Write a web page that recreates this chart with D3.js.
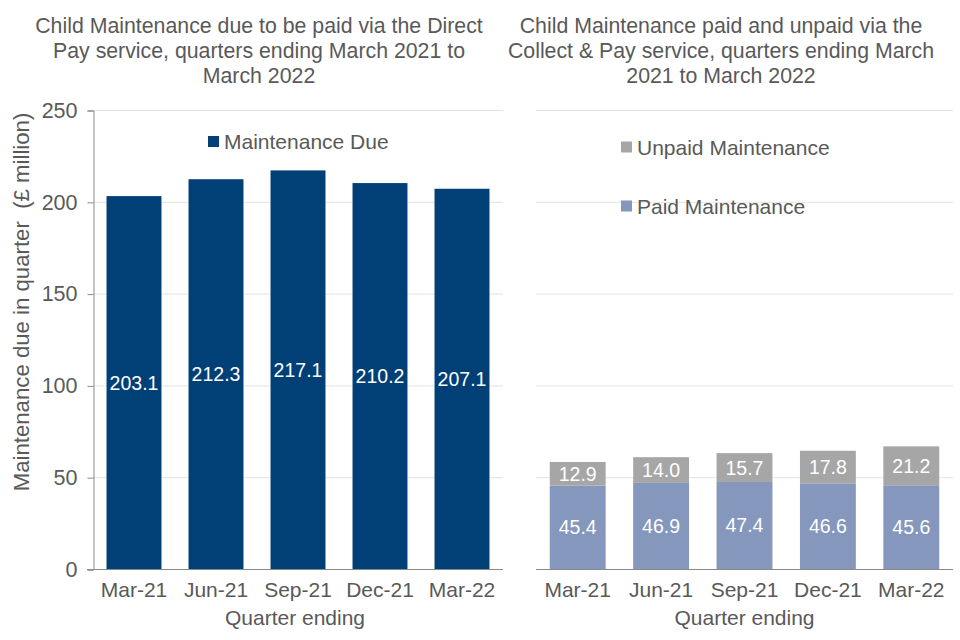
<!DOCTYPE html>
<html><head><meta charset="utf-8">
<script src="https://cdn.jsdelivr.net/npm/d3@7"></script>
<style>
body{margin:0;background:#fff;}
text{font-family:"Liberation Sans",Arial,sans-serif;}
</style></head>
<body><svg id="c" width="960" height="640"></svg>
<script>
const quarters = ["Mar-21","Jun-21","Sep-21","Dec-21","Mar-22"];
const dueValues = [203.1,212.3,217.1,210.2,207.1];
const paidValues = [45.4,46.9,47.4,46.6,45.6];
const unpaidValues = [12.9,14.0,15.7,17.8,21.2];
const yTicks = [0,50,100,150,200,250];
const leftTitle = ["Child Maintenance due to be paid via the Direct","Pay service, quarters ending March 2021 to","March 2022"];
const rightTitle = ["Child Maintenance paid and unpaid via the","Collect & Pay service, quarters ending March","2021 to March 2022"];

const svg = d3.select("#c");
const txt = "#595959", grid = "#e3e3e3", axisCol = "#898989";
const cDue = "#004077", cPaid = "#8597bc", cUnpaid = "#a6a6a6";

const y = d3.scaleLinear().domain([0,250]).range([569,110]);
const xL = d3.scaleBand().domain(quarters).range([93,503]).paddingInner(0.33).paddingOuter(0.165);
const xR = d3.scaleBand().domain(quarters).range([536,953]).paddingInner(0.33).paddingOuter(0.165);

function titles(lines, cx){
  const t = svg.append("text").attr("text-anchor","middle").attr("fill",txt).attr("font-size",21.3);
  lines.forEach((l,i)=>t.append("tspan").attr("x",cx).attr("y",33+i*25).text(l));
}
titles(leftTitle,259);
titles(rightTitle,721);

// gridlines
[[93,503],[536,953]].forEach(([a,b])=>{
  svg.append("g").selectAll("line").data(yTicks.filter(d=>d>0)).join("line")
    .attr("x1",a).attr("x2",b).attr("y1",d=>y(d)+0.5).attr("y2",d=>y(d)+0.5)
    .attr("stroke",grid).attr("stroke-width",1);
});

// left y axis
const ya = svg.append("g").attr("transform","translate(93.5,0.5)")
  .call(d3.axisLeft(y).tickValues(yTicks).tickSize(6).tickPadding(10));
ya.select(".domain").attr("stroke",axisCol);
ya.selectAll(".tick line").attr("stroke",axisCol);
ya.selectAll("text").attr("fill",txt).attr("font-size",21.5).style("font-family","'Liberation Sans',Arial,sans-serif");

svg.append("text").attr("transform","translate(29,302) rotate(-90)")
  .attr("text-anchor","middle").attr("fill",txt).attr("font-size",22.2)
  .attr("xml:space","preserve").text("Maintenance due in quarter  (£ million)");

// x axes
function xAxis(x, a, b){
  const g = svg.append("g").attr("transform","translate(0,569)")
    .call(d3.axisBottom(x).tickSize(0).tickPadding(13));
  g.select(".domain").remove();
  g.selectAll("text").attr("fill",txt).attr("font-size",21).style("font-family","'Liberation Sans',Arial,sans-serif");
  svg.append("line").attr("x1",a).attr("x2",b).attr("y1",569.5).attr("y2",569.5).attr("stroke",axisCol);
  svg.append("text").attr("x",(a+b)/2).attr("y",625).attr("text-anchor","middle")
    .attr("fill",txt).attr("font-size",21).text("Quarter ending");
}
xAxis(xL,87,503);
xAxis(xR,536,953);

// left bars
svg.append("g").selectAll("rect").data(quarters).join("rect")
  .attr("x",d=>xL(d)).attr("width",xL.bandwidth())
  .attr("y",(d,i)=>y(dueValues[i])).attr("height",(d,i)=>y(0)-y(dueValues[i]))
  .attr("fill",cDue);
svg.append("g").selectAll("text").data(quarters).join("text")
  .attr("x",d=>xL(d)+xL.bandwidth()/2).attr("y",(d,i)=>y(dueValues[i]/2)+7)
  .attr("text-anchor","middle").attr("fill","#fff").attr("font-size",19.5)
  .text((d,i)=>dueValues[i].toFixed(1));

// right stacked bars
svg.append("g").selectAll("rect").data(quarters).join("rect")
  .attr("x",d=>xR(d)).attr("width",xR.bandwidth())
  .attr("y",(d,i)=>y(paidValues[i])).attr("height",(d,i)=>y(0)-y(paidValues[i]))
  .attr("fill",cPaid);
svg.append("g").selectAll("rect").data(quarters).join("rect")
  .attr("x",d=>xR(d)).attr("width",xR.bandwidth())
  .attr("y",(d,i)=>y(paidValues[i]+unpaidValues[i])).attr("height",(d,i)=>y(paidValues[i])-y(paidValues[i]+unpaidValues[i]))
  .attr("fill",cUnpaid);
svg.append("g").selectAll("text").data(quarters).join("text")
  .attr("x",d=>xR(d)+xR.bandwidth()/2).attr("y",(d,i)=>y(paidValues[i]/2)+7)
  .attr("text-anchor","middle").attr("fill","#fff").attr("font-size",19.5)
  .text((d,i)=>paidValues[i].toFixed(1));
svg.append("g").selectAll("text").data(quarters).join("text")
  .attr("x",d=>xR(d)+xR.bandwidth()/2).attr("y",(d,i)=>y(paidValues[i]+unpaidValues[i]/2)+7)
  .attr("text-anchor","middle").attr("fill","#fff").attr("font-size",19.5)
  .text((d,i)=>unpaidValues[i].toFixed(1));

// legends
function legend(x, yc, color, label){
  svg.append("rect").attr("x",x).attr("y",yc-5.5).attr("width",11).attr("height",11).attr("fill",color);
  svg.append("text").attr("x",x+16).attr("y",yc+7.5).attr("fill",txt).attr("font-size",21).text(label);
}
legend(208,141.5,cDue,"Maintenance Due");
legend(621,147,cUnpaid,"Unpaid Maintenance");
legend(621,206,cPaid,"Paid Maintenance");
</script></body></html>
